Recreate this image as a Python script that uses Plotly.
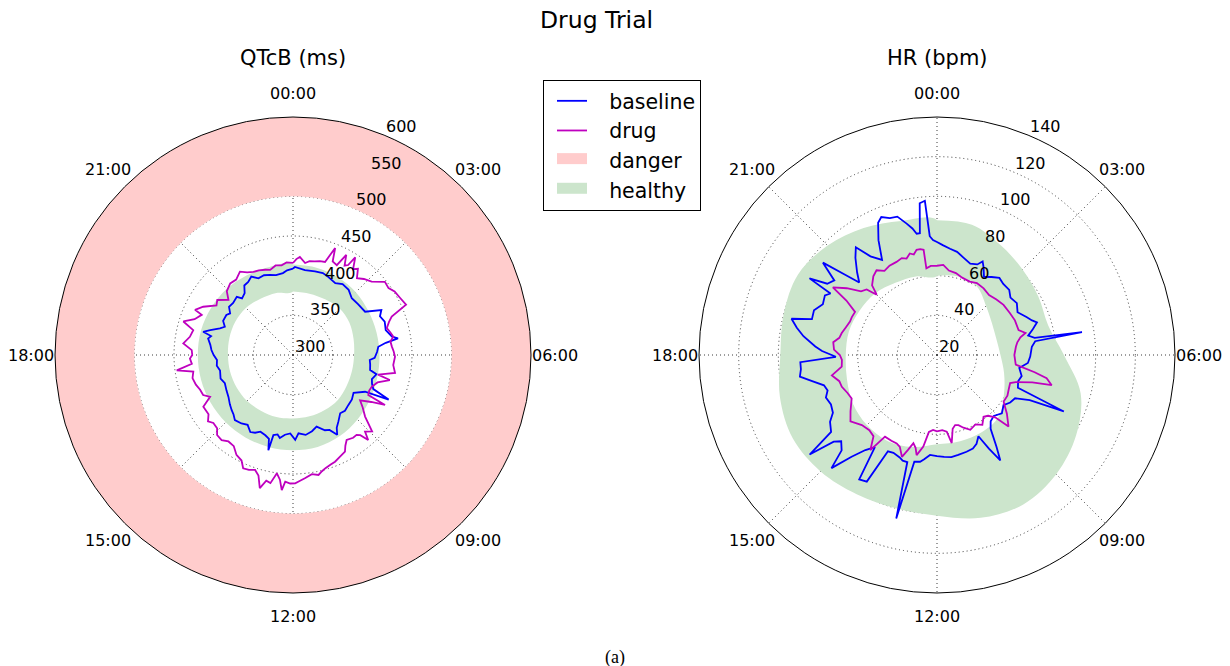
import numpy as np
import plotly.graph_objects as go

# ---- clock ticks -------------------------------------------------------
HOUR_TICKS = [0, 3, 6, 9, 12, 15, 18, 21]
HOUR_LABELS = ["00:00", "03:00", "06:00", "09:00", "12:00", "15:00", "18:00", "21:00"]

# sample times are minutes after midnight (0..1440)

# ---- QTcB (ms) ---------------------------------------------------------
QTC_TICKS = [300, 350, 400, 450, 500, 550, 600]
QTC_DANGER = (500, 600)

qtc_base_min = [0, 5, 32, 59, 80, 97, 122, 140, 162, 184, 208, 236, 252, 264, 280, 300,
                318, 324, 330, 338, 352, 368, 375, 388, 404, 412, 428, 440, 452, 460, 468,
                488, 508, 528, 548, 564, 583, 596, 604, 616, 628, 647, 664, 684, 704, 714,
                728, 743, 756, 764, 775, 778, 784, 796, 812, 824, 836, 852, 868, 887, 900,
                912, 928, 948, 968, 990, 1008, 1032, 1048, 1065, 1080, 1094, 1108, 1124,
                1132, 1138, 1147, 1160, 1170, 1184, 1204, 1214, 1228, 1244, 1264, 1272,
                1288, 1300, 1314, 1328, 1343, 1360, 1376, 1392, 1412, 1424, 1440]
qtc_base = [409, 411, 408, 409, 410, 408, 405, 409, 408, 403, 404, 406, 425, 420, 423, 421,
            427, 434, 418, 408, 406, 403, 397, 398, 399, 408, 404, 406, 410, 433, 402,
            390, 393, 394, 396, 394.5, 401.6, 407, 415, 405, 403, 395, 399, 402, 399, 407,
            399, 401, 406, 402, 404, 424, 410, 407, 405, 409, 411, 405, 408, 410, 406,
            404, 401, 397, 395, 393, 396, 394, 397, 396, 400, 403, 405, 409,
            406, 417, 409, 398, 393, 398, 398, 395, 401, 400, 402, 396,
            399, 407, 408, 412, 406, 407, 405, 403, 404, 407, 409]

qtc_drug_min = [0, 8, 16, 30, 40, 52, 64, 76, 86, 92, 104, 112, 120, 126, 130, 140, 148,
                159, 172, 188, 206, 220, 232, 248, 264, 275, 284, 296, 308, 319, 328, 340,
                352, 364, 383, 400, 412, 418, 432, 448, 460, 472, 474, 484, 496, 508, 522,
                536, 547, 554, 560, 566, 576, 591, 600, 607, 620, 634, 644, 656, 664, 672,
                684, 698, 708, 716, 725, 734, 739, 744, 751, 760, 768, 776, 784, 793, 804,
                815, 824, 838, 852, 867, 880, 894, 904, 918, 928, 940, 960, 973, 984, 998,
                1012, 1028, 1042, 1050, 1060, 1072, 1080, 1091, 1104, 1120, 1136, 1148,
                1160, 1175, 1179, 1193, 1212, 1224, 1242, 1256, 1275, 1292, 1310, 1324,
                1338, 1352, 1368, 1380, 1396, 1411, 1424, 1440]
qtc_drug = [416, 421, 424, 417, 420, 421, 423, 424, 445, 428, 426, 443, 430, 433, 446, 432, 436,
            426, 431, 435.5, 448, 447, 451, 453, 456, 433.5, 428, 423, 426, 428.6, 424, 425,
            427, 428.6, 427, 430.6, 410, 426, 412, 407, 406, 407.5, 432, 415, 402, 410, 419.5,
            438.6, 432.5, 443, 432, 428.7, 429, 426.7, 432, 438.4, 441, 444.6, 446, 448.4, 451, 454.6,
            452, 456, 459, 461.8, 462, 460, 471, 458, 450.5, 464, 462, 473, 458, 452.6, 455,
            456, 448, 444.7, 437, 436, 440, 439, 433, 432, 436, 430, 430.5, 417, 424, 425,
            428, 430, 427.4, 447.8, 428, 430, 427, 427.8, 439, 432, 429.6, 444.5,
            432, 425.7, 436, 428.5, 415, 418, 407, 416, 420, 419, 424.5, 419,
            416, 415, 413, 411, 415, 414, 417, 416]

qtc_ok_min = list(range(0, 1441, 60))
qtc_ok_low = [380, 380, 381, 383, 382, 379, 377, 377, 378, 380, 380, 380, 380,
              381, 381, 382, 382, 382, 382, 383, 384, 384, 382, 381, 380]
qtc_ok_high = [414, 414, 413, 412, 410, 409, 409, 410, 412, 415, 418, 420, 420,
               420, 420, 420, 420, 420, 420, 420, 419, 418, 416, 415, 414]

# ---- HR (bpm) ----------------------------------------------------------
HR_TICKS = [20, 40, 60, 80, 100, 120, 140]

hr_base_min = [0, 12, 28, 44, 60, 80, 96, 104, 112, 124, 140, 156, 172, 192, 208, 228, 248,
               268, 280, 288, 300, 312, 320, 324, 328, 340, 364, 380, 396, 416, 432, 448, 456,
               464, 476, 492, 508, 528, 548, 564, 576, 588, 596, 604, 612, 624, 636, 652, 672,
               688, 704, 720, 736, 748, 756, 768, 776, 782, 792, 800, 816, 828, 836, 848, 856,
               868, 880, 892, 900, 912, 920, 928, 936, 952, 964, 980, 996, 1008, 1020, 1032,
               1044, 1056, 1068, 1076, 1088, 1096, 1112, 1124, 1136, 1144, 1160, 1176, 1192,
               1200, 1204, 1212, 1224, 1236, 1244, 1252, 1264, 1280, 1292, 1304, 1320, 1332,
               1344, 1352, 1364, 1376, 1388, 1396, 1402, 1408, 1414, 1422, 1426, 1432, 1440]
hr_base = [77, 75.5, 74, 73, 71, 69, 70, 72.5, 70, 66, 68, 70, 69, 69, 67, 68, 66,
           69, 71, 73, 70, 67, 70, 94, 70, 68, 67, 66, 62, 64, 63, 64, 90,
           72, 65, 64, 62, 64, 62, 63, 66, 75, 82, 74, 66, 69, 70.5, 71, 71.5,
           72, 71.5, 71, 70.5, 73, 74.5, 75, 105, 76, 76, 75, 74, 74.5, 93, 94, 76,
           80, 87, 98, 88, 85, 88, 101.5, 86, 83.6, 80, 79, 80, 78, 79, 84,
           90, 89, 89, 71, 78, 81.5, 88, 92, 95.6, 85.6, 86, 83, 84,
           82, 95, 86, 84, 94, 82, 73.6, 78, 84, 88, 80, 75.4, 85,
           93, 95, 93, 92.6, 88, 85, 82, 82, 97, 98, 80, 78, 77]

hr_drug_min = [0, 16, 32, 52, 72, 96, 116, 140, 164, 188, 212, 240, 264, 292, 304, 312, 324,
               336, 360, 388, 400, 408, 419, 424, 436, 444, 460, 480, 500, 520, 540, 548, 560,
               572, 588, 604, 624, 640, 652, 662, 672, 682, 691, 704, 720, 732, 744, 754, 766,
               772, 780, 788, 796, 808, 818, 832, 850, 860, 872, 888, 908, 930, 948, 972, 988,
               1006, 1020, 1036, 1052, 1068, 1080, 1092, 1108, 1120, 1132, 1148, 1164, 1176,
               1191, 1204, 1212, 1226, 1240, 1252, 1260, 1268, 1284, 1298, 1312, 1328, 1346,
               1360, 1370, 1380, 1388, 1396, 1404, 1411, 1412, 1424, 1440]
hr_drug = [65, 65.5, 63, 62.4, 61, 60.5, 61.5, 61, 60, 61, 62, 62.4, 63, 63, 66, 63, 61,
           60, 59, 60, 70, 76.5, 79.8, 70, 62, 59.5, 60, 61, 61, 66, 71, 63, 60,
           59, 62, 60, 61.3, 59, 57, 56.5, 58, 65, 59, 58, 58.5, 57.8, 59, 66.7, 71.5,
           68, 66, 70, 74.3, 70, 69, 69, 68.8, 78.6, 72, 71, 71.8, 75, 72, 68.3, 69,
           70.6, 71, 74, 68.4, 68, 69, 72, 72.7, 70, 69.3, 68, 67, 67,
           66.7, 73.3, 82.6, 76.6, 70, 68.5, 63, 68, 71, 72.5, 70, 71, 71.2,
           72, 71, 73, 72, 74, 74, 73.5, 64, 65, 65]

hr_ok_min = list(range(0, 1441, 60))
hr_ok_low = [60, 61, 60, 55, 52, 51, 52, 55, 59, 64, 65, 65, 65,
             68, 70, 70, 69, 67, 66, 66, 65, 64, 62, 61, 60]
hr_ok_high = [88, 88, 84, 81, 79, 78, 84, 95, 101, 105, 107, 105, 101,
              100, 101, 103, 104, 102, 99, 100, 101, 98, 94, 90, 88]

# ---- page geometry and styling ----------------------------------------
W, H = 1230, 666
RADIUS = 238                        # px, outer circle
CENTERS = [(293, 355), (937, 355)]  # px, circle centres
LABEL_FRAC = 1.1                    # clock labels sit just outside the rim
RLABEL_DEG = 22.5                   # radial labels run along this bearing

BLUE = "#0000ff"
MAGENTA = "#bf00bf"
DANGER_FILL = "#ffcccc"
HEALTHY_FILL = "#cce5cc"
GRID = "#3a3a3a"
FONT = "DejaVu Sans"
PAD = "\u00a0\u00a0\u2009"          # gap between legend key and label
LW = 1.8


def to_deg(minutes):
    return [m / 4.0 for m in minutes]


def band_path(minutes, low, high):
    """Closed outline of the region between two radial curves."""
    theta = to_deg(minutes) + to_deg(minutes)[::-1]
    r = list(high) + list(low)[::-1]
    return theta, r


def px(x, y):
    return x / W, 1 - y / H


fig = go.Figure()

# danger ring: full circle between the two limits
ring_deg = np.linspace(0, 360, 361)
fig.add_trace(go.Scatterpolar(
    theta=np.concatenate([ring_deg, ring_deg[::-1]]),
    r=[QTC_DANGER[1]] * len(ring_deg) + [QTC_DANGER[0]] * len(ring_deg),
    mode="lines", fill="toself", fillcolor=DANGER_FILL, line=dict(width=0),
    showlegend=False, subplot="polar", hoverinfo="skip"))

th, rr = band_path(qtc_ok_min, qtc_ok_low, qtc_ok_high)
fig.add_trace(go.Scatterpolar(
    theta=th, r=rr, mode="lines", fill="toself", fillcolor=HEALTHY_FILL,
    line=dict(width=0, shape="spline"), showlegend=False,
    subplot="polar", hoverinfo="skip"))

fig.add_trace(go.Scatterpolar(
    theta=to_deg(qtc_base_min), r=qtc_base, mode="lines",
    line=dict(color=BLUE, width=LW), name=PAD + "baseline", legendrank=1, subplot="polar"))
fig.add_trace(go.Scatterpolar(
    theta=to_deg(qtc_drug_min), r=qtc_drug, mode="lines",
    line=dict(color=MAGENTA, width=LW), name=PAD + "drug", legendrank=2, subplot="polar"))

# legend keys for the two shaded zones (solid patches)
for label, colour, rank in [("danger", DANGER_FILL, 3), ("healthy", HEALTHY_FILL, 4)]:
    fig.add_trace(go.Scatterpolar(
        theta=[None], r=[None], mode="lines", fill="toself", fillcolor=colour,
        line=dict(color=colour, width=10), name=PAD + label, legendrank=rank,
        subplot="polar", hoverinfo="skip"))

th, rr = band_path(hr_ok_min, hr_ok_low, hr_ok_high)
fig.add_trace(go.Scatterpolar(
    theta=th, r=rr, mode="lines", fill="toself", fillcolor=HEALTHY_FILL,
    line=dict(width=0, shape="spline"), showlegend=False,
    subplot="polar2", hoverinfo="skip"))
fig.add_trace(go.Scatterpolar(
    theta=to_deg(hr_base_min), r=hr_base, mode="lines",
    line=dict(color=BLUE, width=LW), showlegend=False, subplot="polar2"))
fig.add_trace(go.Scatterpolar(
    theta=to_deg(hr_drug_min), r=hr_drug, mode="lines",
    line=dict(color=MAGENTA, width=LW), showlegend=False, subplot="polar2"))


def polar_layout(center, rng, rticks):
    cx, cy = center
    grid = dict(gridcolor=GRID, griddash="1px,3px", gridwidth=1)
    return dict(
        domain=dict(x=[(cx - RADIUS) / W, (cx + RADIUS) / W],
                    y=[1 - (cy + RADIUS) / H, 1 - (cy - RADIUS) / H]),
        bgcolor="white",
        angularaxis=dict(
            rotation=90, direction="clockwise",
            tickmode="array", tickvals=[h * 15.0 for h in HOUR_TICKS],
            showticklabels=False, showline=True, linecolor="black",
            linewidth=1, ticks="", **grid),
        radialaxis=dict(
            range=rng, tickmode="array", tickvals=rticks,
            showticklabels=False, showline=False, ticks="", **grid),
    )


annotations = [
    dict(text="Drug Trial", x=0.485, y=1 - 20 / H, font=dict(family=FONT, size=23.5)),
    dict(text="QTcB (ms)", x=293 / W, y=1 - 58 / H, font=dict(family=FONT, size=21)),
    dict(text="HR (bpm)", x=937 / W, y=1 - 58 / H, font=dict(family=FONT, size=21)),
    dict(text="(a)", x=615 / W, y=1 - 657 / H, font=dict(family="Liberation Serif", size=18)),
]
for a in annotations:
    a.update(xref="paper", yref="paper", showarrow=False, xanchor="center", yanchor="middle")

# clock labels around each rim, radial value labels along the 22.5 deg bearing
for (cx, cy), rng, rticks in [(CENTERS[0], [300, 600], QTC_TICKS),
                              (CENTERS[1], [20, 140], HR_TICKS)]:
    for h, lab in zip(HOUR_TICKS, HOUR_LABELS):
        a = np.deg2rad(h * 15.0)
        x, y = px(cx + LABEL_FRAC * RADIUS * np.sin(a), cy - LABEL_FRAC * RADIUS * np.cos(a))
        annotations.append(dict(text=lab, x=x, y=y, xref="paper", yref="paper",
                                showarrow=False, xanchor="center", yanchor="middle",
                                font=dict(family=FONT, size=16, color="black")))
    b = np.deg2rad(RLABEL_DEG)
    for v in rticks:
        rp = (v - rng[0]) / (rng[1] - rng[0]) * RADIUS
        x, y = px(cx + rp * np.sin(b), cy - rp * np.cos(b))
        annotations.append(dict(text=str(v), x=x, y=y, xref="paper", yref="paper",
                                showarrow=False, xanchor="left", yanchor="bottom",
                                yshift=-3, font=dict(family=FONT, size=16, color="black")))

fig.update_layout(
    width=W, height=H,
    margin=dict(l=0, r=0, t=0, b=0),
    paper_bgcolor="white",
    template="none",
    font=dict(family=FONT, color="black"),
    polar=polar_layout(CENTERS[0], [300, 600], QTC_TICKS),
    polar2=polar_layout(CENTERS[1], [20, 140], HR_TICKS),
    legend=dict(x=543 / W, y=1 - 80 / H, xanchor="left", yanchor="top",
                bgcolor="white", bordercolor="black", borderwidth=1,
                indentation=8, itemwidth=30,
                font=dict(family=FONT, size=20.5, color="black")),
    annotations=annotations,
)

fig.write_html("out.html")
